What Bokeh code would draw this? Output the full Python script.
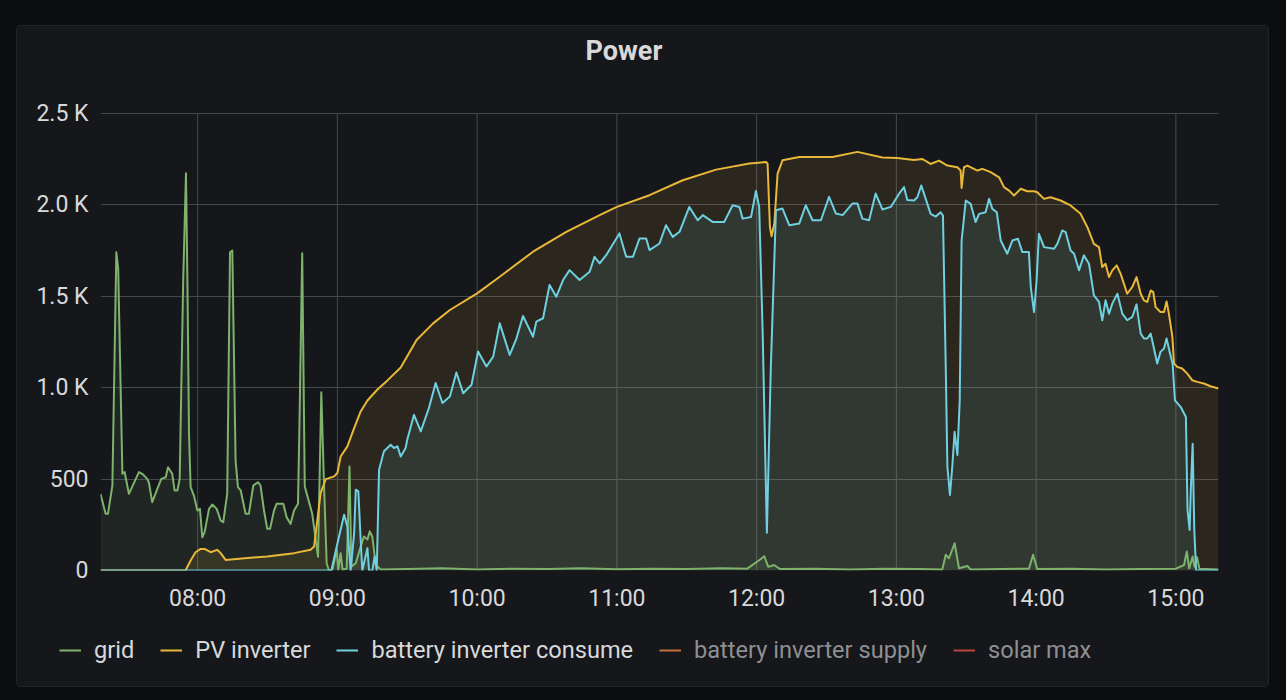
from bokeh.plotting import figure
from bokeh.models import Range1d, FixedTicker, Legend, LegendItem
from bokeh.layouts import column
from bokeh.embed import file_html
from bokeh.resources import INLINE

# ---------------- data (minutes since midnight, watts) ----------------
hour_ticks = [480, 540, 600, 660, 720, 780, 840, 900]
hour_labels = ["08:00", "09:00", "10:00", "11:00", "12:00", "13:00", "14:00", "15:00"]
y_ticks = [0, 500, 1000, 1500, 2000, 2500]
y_labels = ["0", "500", "1.0 K", "1.5 K", "2.0 K", "2.5 K"]
series_names = ["grid", "PV inverter", "battery inverter consume",
                "battery inverter supply", "solar max"]
time_start, time_end = 438.3, 918.3

grid_t = [438.3, 440.5, 441.5, 443.4, 445.1, 445.9, 447.7, 448.7, 449.1, 450.5,
          454.8, 456.2, 458.4, 459.1, 460.5, 462.7, 464.4, 466.3, 467.3, 469.1,
          470.1, 471.3, 472.3, 473.8, 475.0, 475.6, 476.3, 477.0, 478.4, 479.9,
          481.0, 482.0, 483.0, 484.9, 486.3, 488.2, 489.9, 491.0, 492.7, 493.9,
          494.9, 496.3, 497.3, 498.5, 500.6, 502.0, 503.9, 505.9, 507.0, 508.5,
          509.9, 511.1, 512.8, 513.9, 516.8, 518.2, 519.9, 521.4, 523.1, 523.8,
          524.9, 526.0, 527.3, 529.2, 530.7, 531.7, 533.1, 534.2, 535.4, 536.4,
          537.9, 539.7, 540.4, 541.4, 542.2, 544.0, 545.2, 546.0, 547.9, 550.0,
          551.4, 552.9, 553.9, 555.0, 556.5, 558.6, 570.0, 585.0, 600.0, 615.0,
          630.0, 645.0, 660.0, 675.0, 690.0, 705.0, 716.0, 721.5, 723.3, 725.0,
          727.5, 730.0, 745.0, 760.0, 775.0, 790.0, 799.7, 801.2, 802.6, 805.0,
          806.9, 810.5, 811.9, 825.0, 836.9, 838.7, 840.5, 855.0, 870.0, 885.0,
          900.0, 903.5, 904.7, 905.7, 907.2, 908.0, 909.1, 910.1, 918.3]
grid_w = [419, 310, 310, 465, 1741, 1650, 529, 538, 510, 419,
          538, 529, 501, 480, 374, 447, 501, 510, 565, 529,
          438, 438, 501, 1586, 2173, 1600, 747, 456, 410, 328,
          337, 182, 210, 337, 361, 337, 273, 264, 419, 1741,
          1750, 602, 456, 438, 310, 310, 465, 483, 465, 328,
          228, 228, 328, 365, 365, 292, 255, 328, 365, 857,
          1735, 460, 400, 310, 170, 75, 975, 496, 40, 0,
          5, 113, 5, 95, 5, 10, 569, 20, 40, 131,
          186, 170, 214, 186, 30, 6, 8, 12, 6, 10,
          8, 12, 7, 10, 8, 12, 10, 60, 78, 20,
          30, 8, 10, 6, 10, 8, 5, 86, 67, 149,
          12, 25, 5, 8, 10, 86, 8, 10, 6, 8,
          10, 30, 104, 12, 76, 20, 73, 10, 5]

pv_t = [438.3, 474.8, 477.0, 479.1, 481.3, 483.0, 485.6, 488.4, 489.9, 492.0,
        509.9, 521.4, 528.5, 530.0, 531.4, 532.8, 535.0, 538.6, 540.0, 541.4,
        544.3, 547.2, 550.0, 552.9, 557.2, 561.5, 567.2, 574.0, 581.1, 588.3,
        600.0, 609.7, 624.0, 638.3, 652.6, 660.0, 674.0, 688.3, 702.6, 716.9,
        724.0, 724.7, 725.7, 726.4, 727.6, 729.0, 731.1, 738.3, 752.6, 763.3,
        774.0, 780.4, 787.6, 791.2, 794.7, 798.3, 801.9, 806.2, 807.6, 808.0,
        809.0, 810.5, 814.8, 816.9, 820.5, 824.1, 826.2, 828.4, 830.5, 833.4,
        836.2, 839.1, 840.5, 843.4, 846.2, 850.5, 854.8, 859.1, 862.0, 864.8,
        867.0, 868.4, 869.8, 871.3, 872.7, 874.6, 876.3, 879.1, 881.3, 883.1,
        884.9, 886.3, 887.7, 889.2, 890.3, 891.3, 893.4, 894.9, 896.0, 897.0,
        898.5, 899.2, 900.6, 902.7, 904.9, 907.0, 909.2, 912.0, 914.9, 918.3]
pv_w = [0, 0, 55, 100, 118, 118, 100, 113, 95, 58,
        77, 95, 113, 131, 277, 423, 500, 515, 533, 624,
        679, 779, 870, 930, 990, 1040, 1110, 1261, 1352, 1425,
        1516, 1607, 1744, 1853, 1944, 1989, 2053, 2135, 2193, 2226,
        2235, 2226, 1880, 1829, 1898, 2171, 2244, 2262, 2262, 2290,
        2259, 2256, 2246, 2251, 2224, 2242, 2215, 2206, 2188, 2093,
        2206, 2215, 2188, 2197, 2179, 2151, 2097, 2078, 2051, 2088,
        2075, 2075, 2069, 2033, 2042, 2024, 1997, 1951, 1878, 1787,
        1769, 1660, 1678, 1605, 1642, 1669, 1623, 1514, 1551, 1605,
        1514, 1478, 1469, 1532, 1523, 1441, 1414, 1414, 1472, 1405,
        1278, 1132, 1114, 1105, 1077, 1041, 1032, 1023, 1008, 996]

bat_t = [438.3, 537.4, 540.7, 542.9, 544.3, 545.7, 547.2, 547.9, 549.0, 550.0,
         550.7, 552.9, 553.6, 555.0, 556.0, 556.9, 557.9, 560.0, 562.9, 564.3,
         565.8, 567.2, 569.3, 570.0, 572.9, 575.8, 579.3, 582.2, 585.1, 588.3,
         591.1, 594.0, 597.6, 600.4, 604.0, 606.9, 609.7, 614.0, 616.9, 619.7,
         624.0, 625.4, 628.3, 631.1, 634.0, 636.9, 639.7, 644.0, 648.3, 650.4,
         652.6, 655.4, 661.1, 664.0, 666.9, 669.7, 672.6, 674.0, 678.3, 681.1,
         684.0, 686.9, 691.1, 694.7, 696.9, 701.1, 706.1, 709.7, 712.6, 714.0,
         717.6, 719.7, 721.1, 722.6, 724.4, 726.1, 728.3, 731.1, 734.0, 738.3,
         741.1, 744.0, 747.6, 751.1, 754.0, 756.9, 761.1, 763.3, 765.4, 768.3,
         771.1, 774.0, 777.6, 781.1, 783.3, 784.7, 787.6, 789.0, 790.7, 792.6,
         794.7, 796.9, 799.0, 800.0, 801.2, 801.9, 803.0, 804.0, 805.0, 806.2,
         807.2, 808.0, 809.8, 811.9, 814.0, 815.5, 818.3, 819.8, 821.2, 823.1,
         824.8, 827.6, 829.8, 832.2, 834.1, 836.9, 837.7, 839.1, 840.2, 841.2,
         843.4, 847.7, 849.1, 851.2, 852.7, 854.8, 856.3, 858.4, 860.5, 862.7,
         864.8, 867.0, 868.4, 869.8, 871.3, 872.7, 874.9, 877.0, 879.1, 881.3,
         883.1, 884.9, 886.3, 887.7, 889.2, 890.6, 892.0, 893.4, 894.9, 896.0,
         897.5, 898.6, 899.6, 902.1, 904.3, 905.0, 905.9, 906.4, 907.2, 907.9,
         908.7, 918.3]
bat_w = [0, 0, 186, 305, 241, 0, 204, 442, 433, 168,
         0, 122, 0, 0, 77, 0, 551, 652, 688, 670,
         679, 624, 670, 715, 852, 761, 889, 1026, 916, 952,
         1083, 970, 1016, 1198, 1116, 1170, 1352, 1179, 1270, 1392,
         1279, 1361, 1380, 1562, 1498, 1589, 1643, 1589, 1634, 1716,
         1680, 1725, 1844, 1716, 1716, 1816, 1816, 1753, 1789, 1889,
         1825, 1853, 1989, 1916, 1944, 1907, 1907, 1998, 1989, 1925,
         1934, 2076, 1989, 1297, 206, 1116, 1971, 1980, 1889, 1898,
         1998, 1916, 1916, 2044, 1953, 1944, 2007, 2007, 1925, 1916,
         2062, 1975, 1989, 2060, 2097, 2027, 2024, 2042, 2106, 2033,
         1951, 1936, 1960, 1942, 1114, 568, 413, 568, 759, 632,
         932, 1805, 2024, 2006, 1906, 1951, 1960, 2033, 1978, 1960,
         1805, 1733, 1805, 1815, 1742, 1742, 1551, 1414, 1587, 1842,
         1769, 1760, 1787, 1860, 1851, 1751, 1733, 1642, 1724, 1678,
         1505, 1469, 1369, 1478, 1405, 1460, 1514, 1405, 1369, 1387,
         1456, 1296, 1269, 1269, 1296, 1214, 1132, 1196, 1214, 1269,
         1187, 1131, 931, 894, 840, 331, 222, 440, 694, 222,
         0, 0]

# hidden series (toggled off in the dashboard, nothing drawn)
bat_supply_t, bat_supply_w = [time_start, time_end], [0, 0]
solar_max_t, solar_max_w = [time_start, time_end], [0, 0]

# ---------------- styling ----------------
PAGE_BG = "#0c0d0f"
PANEL = "#16171b"
GRID_C = "#46484d"
TEXT = "#d8d9da"
TEXT_OFF = "#8e8f92"
GREEN, YELLOW, CYAN, ORANGE, RED = "#7eb26d", "#eab839", "#6ed0e0", "#ef843c", "#e24d42"
ORANGE_OFF, RED_OFF = "#c2713c", "#b9473f"
FONT = "Roboto"

# frame top sits above the 2.5 K line so the title has room
Y_TOP = 2500 * (570 - 71) / 457.0

p = figure(width=1251, height=599,
           x_range=Range1d(time_start, time_end), y_range=Range1d(0, Y_TOP),
           output_backend="svg", toolbar_location=None,
           min_border_left=83, min_border_right=50,
           min_border_top=45, min_border_bottom=55,
           background_fill_color=PANEL, border_fill_color=PANEL,
           outline_line_color=None)

p.title.text = "Power"
p.title.align = "left"
p.title.offset = 485
p.title.standoff = 10
p.title.text_font = FONT
p.title.text_font_size = "27px"
p.title.text_font_style = "bold"
p.title.text_color = TEXT

for ax in (p.xaxis[0], p.yaxis[0]):
    ax.axis_line_color = None
    ax.major_tick_line_color = None
    ax.minor_tick_line_color = None
    ax.major_tick_out = 0
    ax.major_tick_in = 0
    ax.minor_tick_out = 0
    ax.major_label_text_font = FONT
    ax.major_label_text_font_size = "23px"
    ax.major_label_text_color = TEXT

p.xaxis[0].ticker = FixedTicker(ticks=hour_ticks)
p.xaxis[0].major_label_overrides = dict(zip(hour_ticks, hour_labels))
p.xaxis[0].major_label_standoff = 14
p.yaxis[0].ticker = FixedTicker(ticks=y_ticks)
p.yaxis[0].major_label_overrides = dict(zip(y_ticks, y_labels))
p.yaxis[0].major_label_standoff = 12

# horizontal grid from the y ticks; vertical grid drawn only over the 0..2.5 K band
p.xgrid.visible = False
p.ygrid[0].ticker = FixedTicker(ticks=y_ticks)
p.ygrid[0].grid_line_color = GRID_C
p.ygrid[0].grid_line_width = 1
p.segment(x0=hour_ticks, x1=hour_ticks,
          y0=[y_ticks[0]] * len(hour_ticks), y1=[y_ticks[-1]] * len(hour_ticks),
          line_color=GRID_C, line_width=1, level="underlay")

# fills
p.varea(x=grid_t, y1=0, y2=grid_w, fill_color=GREEN, fill_alpha=0.1)
p.varea(x=pv_t, y1=0, y2=pv_w, fill_color=YELLOW, fill_alpha=0.1)
p.varea(x=bat_t, y1=0, y2=bat_w, fill_color=CYAN, fill_alpha=0.1)

# lines
p.line(grid_t, grid_w, line_color=GREEN, line_width=2, line_join="round")
p.line(pv_t, pv_w, line_color=YELLOW, line_width=2, line_join="round")
p.line(bat_t, bat_w, line_color=CYAN, line_width=2, line_join="round")

# ---------------- legend strip ----------------
leg = figure(width=1251, height=61, x_range=Range1d(0, 1), y_range=Range1d(0, 1),
             x_axis_type=None, y_axis_type=None,
             output_backend="svg", toolbar_location=None, min_border=0,
             background_fill_color=PANEL, border_fill_color=PANEL,
             outline_line_color=None)
leg.xgrid.visible = False
leg.ygrid.visible = False
for fig in (p, leg):
    try:
        fig.frame_align = False
    except AttributeError:
        pass

legend_colors = [GREEN, YELLOW, CYAN, ORANGE_OFF, RED_OFF]
legend_data = [(grid_t, grid_w), (pv_t, pv_w), (bat_t, bat_w),
               (bat_supply_t, bat_supply_w), (solar_max_t, solar_max_w)]
renderers = []
for c, (xs, ys) in zip(legend_colors, legend_data):
    # series lie outside this strip's view; they only feed the legend swatches
    renderers.append(leg.line(x=xs, y=ys, line_color=c, line_width=2))

common = dict(orientation="horizontal",
              glyph_width=22, glyph_height=20, label_standoff=13, spacing=26,
              padding=0, margin=0, border_line_color=None, background_fill_alpha=0,
              label_text_font=FONT, label_text_font_size="23.6px")
legend_on = Legend(items=[LegendItem(label=n, renderers=[r])
                          for n, r in zip(series_names[:3], renderers[:3])],
                   location=(42, 22), label_text_color=TEXT, **common)
legend_off = Legend(items=[LegendItem(label=n, renderers=[r])
                           for n, r in zip(series_names[3:], renderers[3:])],
                    location=(642, 22), label_text_color=TEXT_OFF, **common)
leg.add_layout(legend_on)
leg.add_layout(legend_off)

layout = column(p, leg, spacing=0)
layout.margin = (26, 0, 0, 17)
layout.styles = {"outline": "1px solid #222428", "border-radius": "3px",
                 "background-color": PANEL}

html = file_html(layout, INLINE, title="Power")
html = html.replace("</head>", "<style>html,body{background-color:%s;}</style></head>" % PAGE_BG, 1)
open("out.html", "w").write(html)
